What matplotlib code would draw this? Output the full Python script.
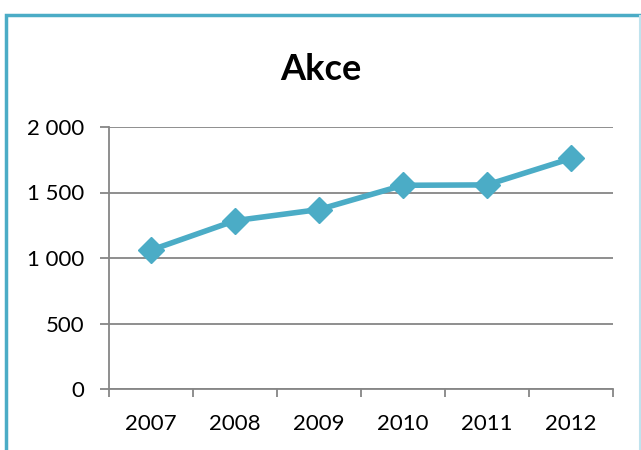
import matplotlib
matplotlib.use('Agg')
import matplotlib.pyplot as plt
from matplotlib.patches import Rectangle
from matplotlib.ticker import FuncFormatter, FixedLocator

# chart data
years = ['2007', '2008', '2009', '2010', '2011', '2012']
values = [1060, 1285, 1370, 1555, 1558, 1760]
title = 'Akce'

plt.rcParams['font.family'] = ['Lato', 'DejaVu Sans']

fig = plt.figure(figsize=(6.41, 4.5), dpi=100)

# outer chart frame (cut off on the right and bottom)
frame = Rectangle((6 / 641, -0.05), 1.2, 1 - 14.5 / 450 + 0.05, transform=fig.transFigure,
                  fill=False, edgecolor='#4BACC6', linewidth=2.5)
fig.add_artist(frame)
fig.add_artist(plt.Line2D([639.5 / 641, 639.5 / 641], [0, 1 - 16 / 450], transform=fig.transFigure,
                          color='#BFE3EE', linewidth=1.5))

ax = fig.add_axes([109 / 641, 61 / 450, 504 / 641, 262 / 450])

x = list(range(len(years)))
ax.plot(x, values, color='#4BACC6', linewidth=4, marker='D', markersize=13,
        markerfacecolor='#4BACC6', markeredgecolor='#4BACC6', zorder=3)

ax.set_xlim(-0.5, len(years) - 0.5)
ax.set_ylim(0, 2000)
ax.set_yticks([0, 500, 1000, 1500, 2000])
ax.yaxis.set_major_formatter(FuncFormatter(lambda v, p: f'{int(v):,}'.replace(',', ' ')))
ax.grid(axis='y', color='#868686', linewidth=1.3)
ax.set_axisbelow(True)

ax.set_xticks(x)
ax.set_xticklabels(years)
ax.xaxis.set_minor_locator(FixedLocator([i - 0.5 for i in range(len(years) + 1)]))
ax.tick_params(axis='x', which='major', length=0, pad=18, labelsize=16)
ax.tick_params(axis='x', which='minor', length=5.5, width=1.3, color='#868686')
ax.tick_params(axis='y', length=6.5, width=1.3, color='#868686', pad=11, labelsize=16)

for side in ['top', 'right']:
    ax.spines[side].set_visible(False)
for side in ['left', 'bottom']:
    ax.spines[side].set_color('#868686')
    ax.spines[side].set_linewidth(1.3)

fig.text(0.5, 1 - 80 / 450, title, ha='center', va='baseline', fontsize=26, fontweight='bold')

fig.savefig('out.png', dpi=100)
